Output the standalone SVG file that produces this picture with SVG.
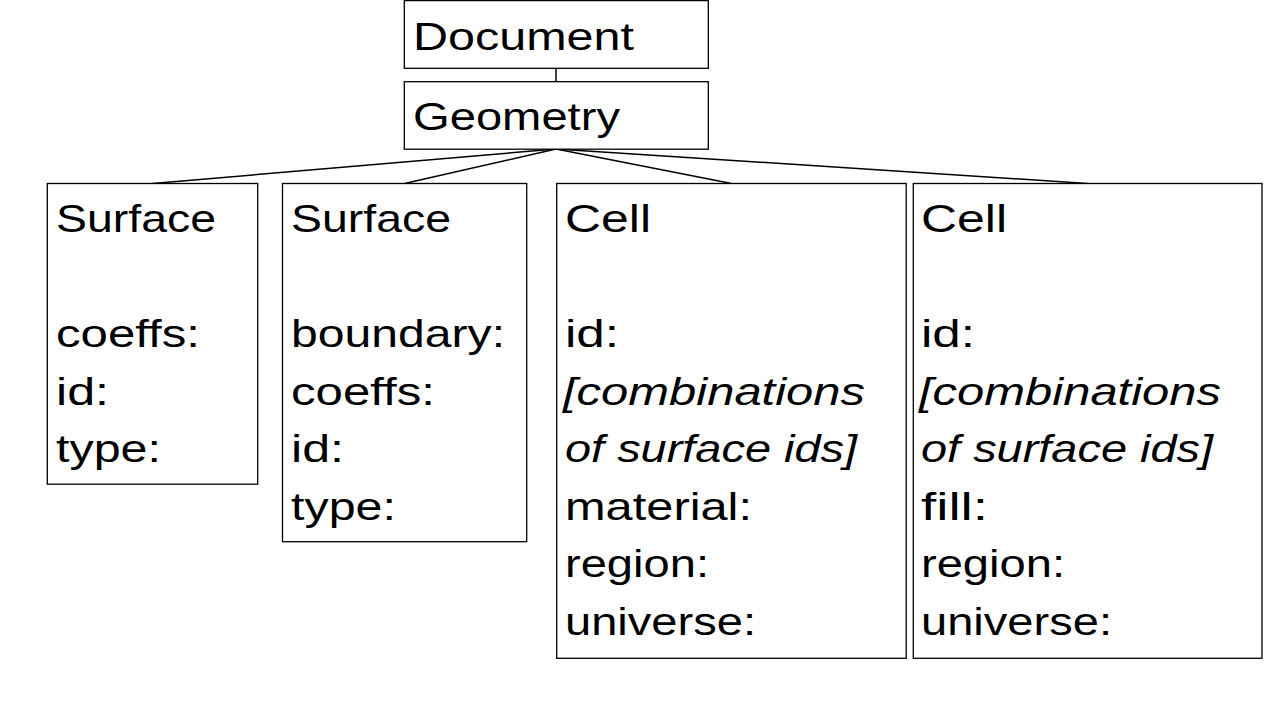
<svg xmlns="http://www.w3.org/2000/svg" width="1280" height="720" viewBox="0 0 1280 720">
<style>
.box{fill:#fff;stroke:#000;stroke-width:1.3}
.con{stroke:#000;stroke-width:1.5;fill:none}
text{font-family:"Liberation Sans",Arial,sans-serif;font-size:39px;fill:#000}
.it{font-style:italic}
</style>
<rect width="1280" height="720" fill="#fff"/>
<g id="connectors">
<line class="con" x1="556" y1="68" x2="556" y2="82"/>
<line class="con" x1="556" y1="149" x2="152.5" y2="183.5"/>
<line class="con" x1="556" y1="149" x2="404.5" y2="183.5"/>
<line class="con" x1="556" y1="149" x2="731.5" y2="183.5"/>
<line class="con" x1="556" y1="149" x2="1087.5" y2="183.5"/>
</g>
<g id="document">
<rect class="box" x="404.3" y="0.6" width="304" height="67.7"/>
<text x="413" y="49.5" textLength="221" lengthAdjust="spacingAndGlyphs">Document</text>
</g>
<g id="geometry">
<rect class="box" x="404.3" y="81.7" width="304" height="67.5"/>
<text x="413" y="130" textLength="207" lengthAdjust="spacingAndGlyphs">Geometry</text>
</g>
<g id="surface1">
<rect class="box" x="47.3" y="183.5" width="210.4" height="300.7"/>
<text x="56" y="232" textLength="160" lengthAdjust="spacingAndGlyphs">Surface</text>
<text x="56" y="347" textLength="144" lengthAdjust="spacingAndGlyphs">coeffs:</text>
<text x="56" y="404.5" textLength="53" lengthAdjust="spacingAndGlyphs">id:</text>
<text x="56" y="462" textLength="105" lengthAdjust="spacingAndGlyphs">type:</text>
</g>
<g id="surface2">
<rect class="box" x="282.5" y="183.5" width="244.2" height="358.2"/>
<text x="291" y="232" textLength="160" lengthAdjust="spacingAndGlyphs">Surface</text>
<text x="291" y="347" textLength="214" lengthAdjust="spacingAndGlyphs">boundary:</text>
<text x="291" y="404.5" textLength="144" lengthAdjust="spacingAndGlyphs">coeffs:</text>
<text x="291" y="462" textLength="53" lengthAdjust="spacingAndGlyphs">id:</text>
<text x="291" y="519.5" textLength="105" lengthAdjust="spacingAndGlyphs">type:</text>
</g>
<g id="cell1">
<rect class="box" x="556.7" y="183.5" width="349.5" height="474.8"/>
<text x="565" y="232" textLength="86" lengthAdjust="spacingAndGlyphs">Cell</text>
<text x="565" y="347" textLength="54" lengthAdjust="spacingAndGlyphs">id:</text>
<text class="it" x="563" y="404.5" textLength="302" lengthAdjust="spacingAndGlyphs">[combinations</text>
<text class="it" x="565" y="462" textLength="292" lengthAdjust="spacingAndGlyphs">of surface ids]</text>
<text x="565" y="519.5" textLength="187" lengthAdjust="spacingAndGlyphs">material:</text>
<text x="565" y="577" textLength="144" lengthAdjust="spacingAndGlyphs">region:</text>
<text x="565" y="634.5" textLength="191" lengthAdjust="spacingAndGlyphs">universe:</text>
</g>
<g id="cell2">
<rect class="box" x="913.3" y="183.5" width="348.7" height="474.8"/>
<text x="921" y="232" textLength="86" lengthAdjust="spacingAndGlyphs">Cell</text>
<text x="921" y="347" textLength="54" lengthAdjust="spacingAndGlyphs">id:</text>
<text class="it" x="919" y="404.5" textLength="302" lengthAdjust="spacingAndGlyphs">[combinations</text>
<text class="it" x="921" y="462" textLength="292" lengthAdjust="spacingAndGlyphs">of surface ids]</text>
<text x="921" y="519.5" textLength="67" lengthAdjust="spacingAndGlyphs">fill:</text>
<text x="921" y="577" textLength="144" lengthAdjust="spacingAndGlyphs">region:</text>
<text x="921" y="634.5" textLength="191" lengthAdjust="spacingAndGlyphs">universe:</text>
</g>
</svg>
